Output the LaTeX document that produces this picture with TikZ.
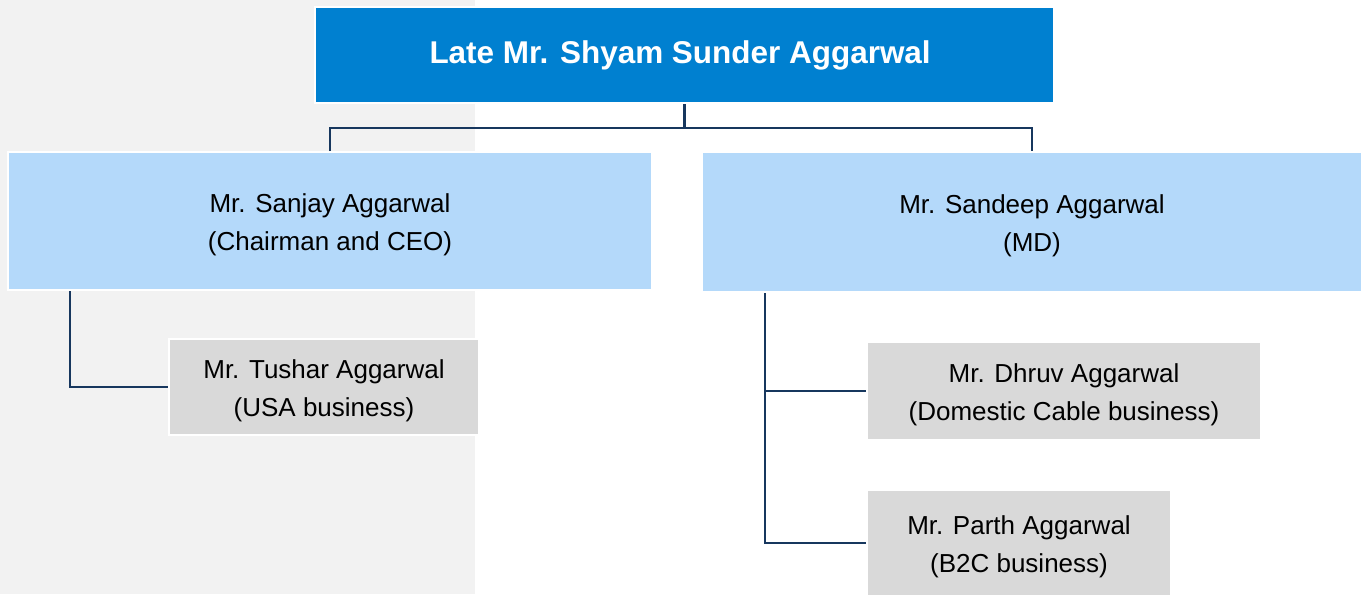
\documentclass[tikz,border=0pt]{standalone}
\usepackage{fontspec}
\setmainfont{Liberation Sans}
\definecolor{topblue}{RGB}{0,128,208}
\definecolor{headblue}{RGB}{180,217,250}
\definecolor{subgray}{RGB}{217,217,217}
\definecolor{bandgray}{RGB}{242,242,242}
\definecolor{linknavy}{RGB}{23,55,94}
\tikzset{
  box/.style={draw=white, line width=1.5pt, rectangle, align=center, inner sep=0pt,
    font=\fontsize{19.5}{28.5}\selectfont},
  topbox/.style={box, fill=topblue, text=white, font=\fontsize{23.6}{28}\selectfont\bfseries},
  headbox/.style={box, fill=headblue},
  subbox/.style={box, fill=subgray},
  link/.style={draw=linknavy, line width=1.9pt}
}
\begin{document}
\begin{tikzpicture}[x=0.75pt, y=-0.75pt]
\useasboundingbox ( 0, 0 ) rectangle ( 1367, 594 );
\fill[white] ( 0, 0 ) rectangle ( 1367, 594 );
\fill[bandgray] ( 0, 0 ) rectangle ( 475, 594 );

\node[topbox, minimum width=739*0.75pt, minimum height=96*0.75pt] (shyam) at ( 684.5, 55 )
  { Late Mr. Shyam Sunder Aggarwal };

\node[headbox, minimum width=644*0.75pt, minimum height=138*0.75pt] (sanjay) at ( 330, 221 )
  { \strut Mr. Sanjay Aggarwal \\ (Chairman and CEO) };
\node[headbox, minimum width=660*0.75pt, minimum height=140*0.75pt] (sandeep) at ( 1032, 222 )
  { \strut Mr. Sandeep Aggarwal \\ (MD) };

\node[subbox, minimum width=310*0.75pt, minimum height=96*0.75pt] (tushar) at ( 324, 387 )
  { \strut Mr. Tushar Aggarwal \\ (USA business) };
\node[subbox, minimum width=394*0.75pt, minimum height=98*0.75pt] (dhruv) at ( 1064, 391 )
  { \strut Mr. Dhruv Aggarwal \\ (Domestic Cable business) };
\node[subbox, minimum width=304*0.75pt, minimum height=106*0.75pt] (parth) at ( 1019, 543 )
  { \strut Mr. Parth Aggarwal \\ (B2C business) };

% Verbindungen
\coordinate (split) at ( 684.5, 128 );
\draw[link] (shyam.south) -- (split);
\draw[link] (sanjay.north) |- (split) -| (sandeep.north);

\draw[link] (sanjay.south west) ++( 63, 0 ) |- (tushar.west);
\draw[link] (sandeep.south west) ++( 64, 0 ) |- (dhruv.west);
\draw[link] (sandeep.south west) ++( 64, 0 ) |- (parth.west);

\end{tikzpicture}
\end{document}
